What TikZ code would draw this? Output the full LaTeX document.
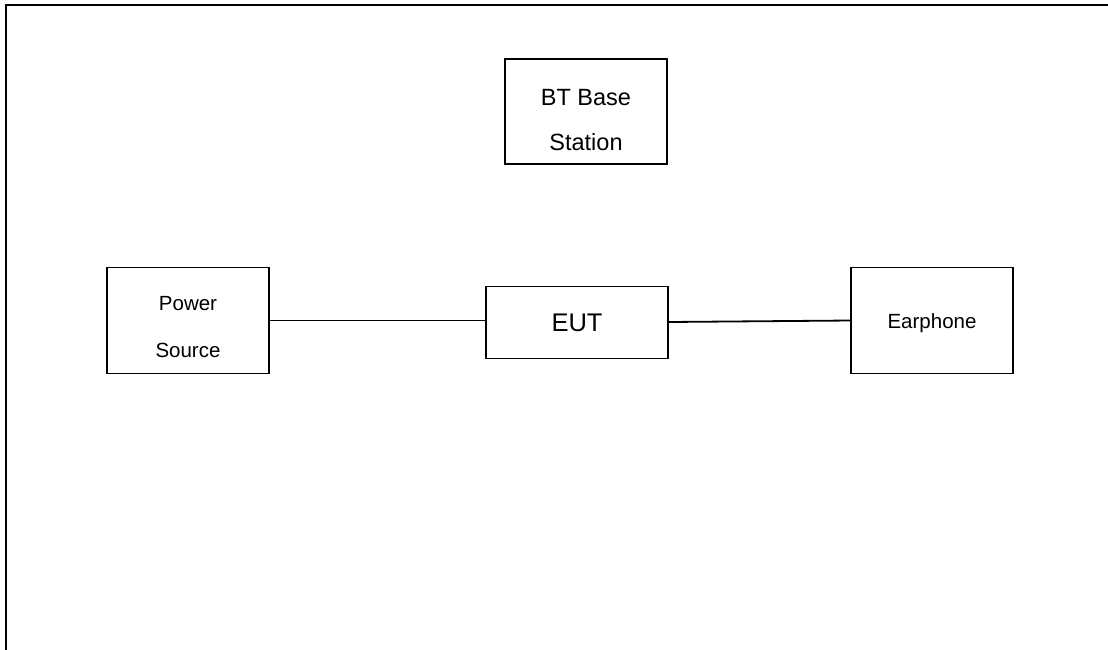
\documentclass[tikz,border=0pt]{standalone}
\usepackage{fontspec}
\setmainfont{Liberation Sans}
\begin{document}
\begin{tikzpicture}[x=1pt,y=-1pt,
  box/.style={draw=black,line width=1.2pt,inner sep=0pt},
  txt/.style={align=center,inner sep=0pt},
  wire/.style={draw=black,line width=1.8pt},
  frame/.style={draw=black,line width=2.7pt}]
\useasboundingbox (0,0) rectangle (1108,649);
\coordinate (ftr) at (1108,5);
\coordinate (ftl) at (6,5);
\coordinate (fbl) at (6,652);
\draw[frame] (ftr) -- (ftl) -- (fbl);
\node[box,minimum width=162pt,minimum height=105pt,
  label={[txt,yshift=-9pt,font=\fontsize{23.5}{45}\selectfont]center:BT Base\\Station}] (bt) at (586,111.5) {};
\node[box,minimum width=162pt,minimum height=106pt,
  label={[txt,yshift=-7pt,font=\fontsize{20.5}{47}\selectfont]center:Power\\Source}] (ps) at (188,320.5) {};
\node[box,minimum width=182pt,minimum height=72pt,
  label={[txt,font=\fontsize{25.5}{30}\selectfont]center:EUT}] (eut) at (577,322.5) {};
\node[box,minimum width=162pt,minimum height=106pt,
  label={[txt,yshift=-3pt,font=\fontsize{20.5}{30}\selectfont]center:Earphone}] (ear) at (932,320.5) {};
\draw[wire] (ps.east) -- (ps.east -| eut.west);
\draw[wire] ([yshift=0.5pt]eut.east) -- (ear.west);
\end{tikzpicture}
\end{document}
